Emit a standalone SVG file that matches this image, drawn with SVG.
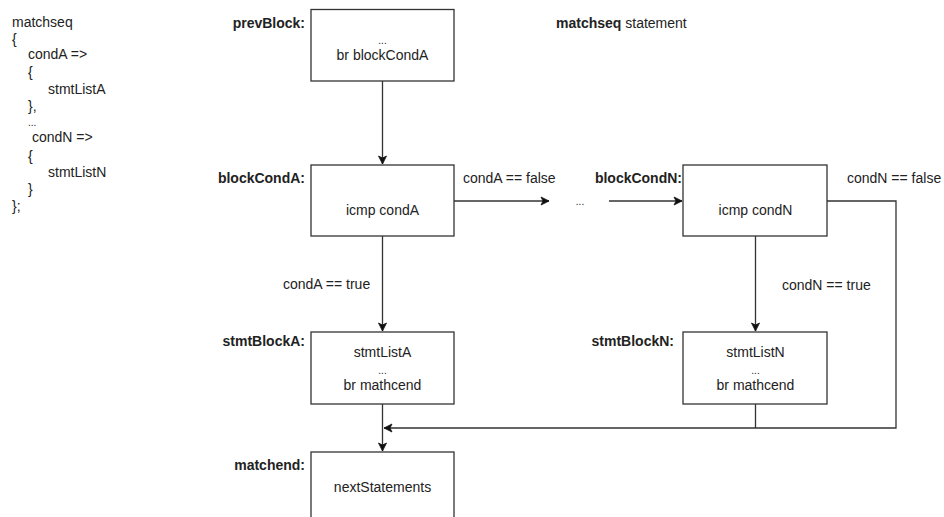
<svg xmlns="http://www.w3.org/2000/svg" width="944" height="517" viewBox="0 0 944 517">
  <defs>
    <marker id="arrow" markerUnits="userSpaceOnUse" markerWidth="10" markerHeight="10" viewBox="0 0 10 10" refX="9" refY="5" orient="auto">
      <path d="M1,1 L9,5 L1,9 L3,5 Z" fill="#111" stroke="#111" stroke-width="0.8"/>
    </marker>
    <style>
      text { font-family: "Liberation Sans", Arial, sans-serif; font-size: 14px; fill: #222; }
      .lbl { font-weight: bold; text-anchor: end; }
      .mid { text-anchor: middle; }
      .dots { font-size: 10px; }
      .box { fill: #fff; stroke: #333; stroke-width: 1.3; }
      .edge { fill: none; stroke: #333; stroke-width: 1.3; }
    </style>
  </defs>
  <rect width="944" height="517" fill="#fff"/>

  <!-- source snippet -->
  <g id="code">
    <text x="12" y="27">matchseq</text>
    <text x="12" y="44">{</text>
    <text x="28" y="59">condA =&gt;</text>
    <text x="28" y="77">{</text>
    <text x="48" y="94">stmtListA</text>
    <text x="28" y="111">},</text>
    <text x="28" y="126" class="dots">...</text>
    <text x="32" y="142">condN =&gt;</text>
    <text x="28" y="161">{</text>
    <text x="48" y="177">stmtListN</text>
    <text x="28" y="194">}</text>
    <text x="12" y="211">};</text>
  </g>

  <g id="title">
    <text x="556" y="28"><tspan font-weight="bold">matchseq</tspan> statement</text>
  </g>

  <!-- connectors -->
  <g id="connectors">
    <path class="edge" d="M382.5,81 V164" marker-end="url(#arrow)"/>
    <path class="edge" d="M454,201 H549" marker-end="url(#arrow)"/>
    <path class="edge" d="M609,201 H682" marker-end="url(#arrow)"/>
    <path class="edge" d="M382.5,236 V331" marker-end="url(#arrow)"/>
    <path class="edge" d="M755.5,236 V331" marker-end="url(#arrow)"/>
    <path class="edge" d="M382.5,404 V451" marker-end="url(#arrow)"/>
    <path class="edge" d="M827,201 H896 V428 H384" marker-end="url(#arrow)"/>
    <path class="edge" d="M755.5,404 V428"/>
    <text x="463" y="183">condA == false</text>
    <text x="580" y="205" class="mid dots">...</text>
    <text x="847" y="183">condN == false</text>
    <text x="283" y="289">condA == true</text>
    <text x="782" y="290">condN == true</text>
  </g>

  <g id="prevBlock">
    <rect class="box" x="311" y="9.5" width="143" height="71.5"/>
    <text class="lbl" x="305" y="28">prevBlock:</text>
    <text class="mid dots" x="382.5" y="44">...</text>
    <text class="mid" x="382.5" y="60">br blockCondA</text>
  </g>

  <g id="blockCondA">
    <rect class="box" x="311" y="165" width="143" height="71"/>
    <text class="lbl" x="305" y="183">blockCondA:</text>
    <text class="mid" x="382.5" y="215">icmp condA</text>
  </g>

  <g id="blockCondN">
    <rect class="box" x="683" y="165" width="144" height="71"/>
    <text class="lbl" x="682" y="183">blockCondN:</text>
    <text class="mid" x="755.5" y="215">icmp condN</text>
  </g>

  <g id="stmtBlockA">
    <rect class="box" x="311" y="332" width="143" height="72"/>
    <text class="lbl" x="305" y="346">stmtBlockA:</text>
    <text class="mid" x="382.5" y="357">stmtListA</text>
    <text class="mid dots" x="382.5" y="374">...</text>
    <text class="mid" x="382.5" y="390">br mathcend</text>
  </g>

  <g id="stmtBlockN">
    <rect class="box" x="683" y="332" width="144" height="72"/>
    <text class="lbl" x="674" y="346">stmtBlockN:</text>
    <text class="mid" x="755.5" y="357">stmtListN</text>
    <text class="mid dots" x="755.5" y="374">...</text>
    <text class="mid" x="755.5" y="390">br mathcend</text>
  </g>

  <g id="matchend">
    <rect class="box" x="311" y="452" width="143" height="80"/>
    <text class="lbl" x="305" y="470">matchend:</text>
    <text class="mid" x="382.5" y="492">nextStatements</text>
  </g>
</svg>
